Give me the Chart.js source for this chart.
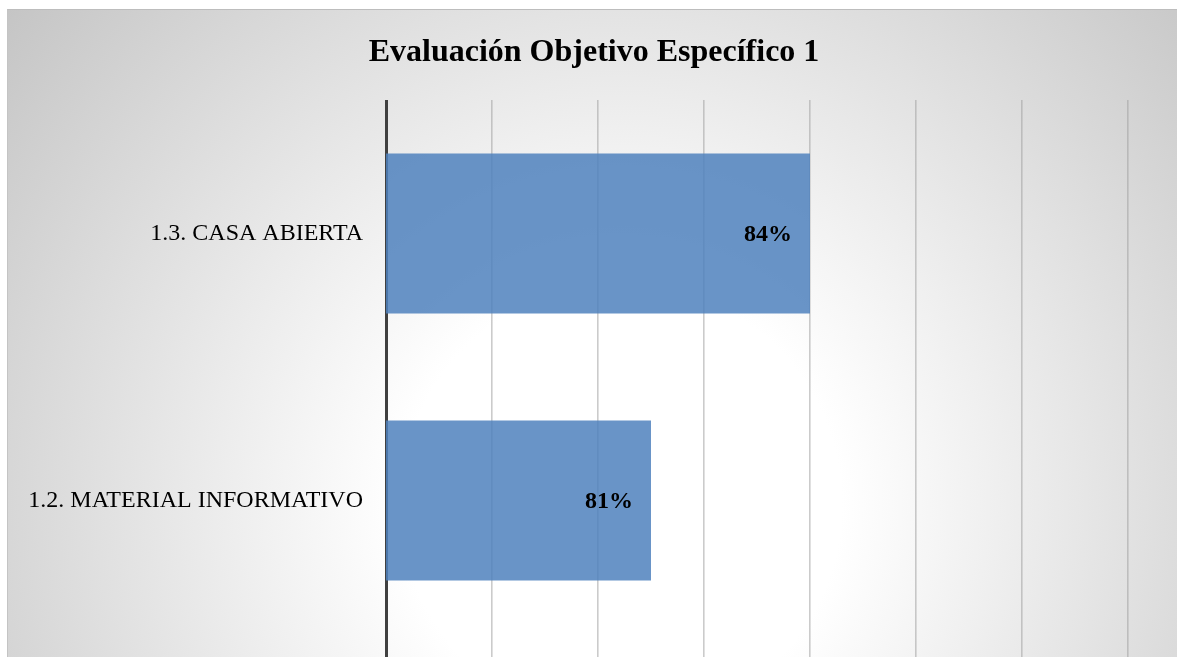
<!DOCTYPE html>
<html>
<head>
<meta charset="utf-8">
<script src="https://cdn.jsdelivr.net/npm/chart.js@4/dist/chart.umd.min.js"></script>
<style>
  html, body { margin: 0; padding: 0; background: #ffffff; width: 1177px; height: 657px; overflow: hidden; }
  #frame {
    position: absolute; left: 7px; top: 9px; width: 1180px; height: 660px;
    border-top: 1px solid #bdbdbd; border-left: 1px solid #c4c4c4;
    background: radial-gradient(circle farthest-corner at 52% 75%, #ffffff 0%, #ffffff 28%, #c5c5c5 100%);
    box-sizing: border-box;
  }
  canvas { position: absolute; left: 0; top: 0; }
</style>
</head>
<body>
<div id="frame"><canvas id="c" width="1172" height="647"></canvas></div>
<script>
const categories = ['1.3. CASA ABIERTA', '1.2. MATERIAL INFORMATIVO'];
const values = [84, 81];
const valueLabels = ['84%', '81%'];
const axisMin = 76, axisMax = 90, axisStep = 2;

const barLabels = {
  id: 'barLabels',
  afterDatasetsDraw(chart) {
    const ctx = chart.ctx;
    const meta = chart.getDatasetMeta(0);
    ctx.save();
    ctx.font = 'bold 24px "Liberation Serif", "Times New Roman", serif';
    ctx.fillStyle = '#000000';
    ctx.textAlign = 'right';
    ctx.textBaseline = 'middle';
    meta.data.forEach((bar, i) => {
      ctx.fillText(valueLabels[i], bar.x - 18, bar.y + 1);
    });
    ctx.restore();
  }
};

new Chart(document.getElementById('c'), {
  type: 'bar',
  data: {
    labels: categories,
    datasets: [{
      data: values,
      backgroundColor: 'rgba(79,129,189,0.85)',
      borderWidth: 0,
      categoryPercentage: 0.6,
      barPercentage: 1.0
    }]
  },
  options: {
    indexAxis: 'y',
    responsive: false,
    animation: false,
    layout: { padding: 0 },
    plugins: {
      legend: { display: false },
      tooltip: { enabled: false },
      title: {
        display: true,
        text: 'Evaluación Objetivo Específico 1',
        color: '#000000',
        font: { family: '"Liberation Serif", "Times New Roman", serif', size: 32, weight: 'bold', lineHeight: 1.2 },
        padding: { top: 24, bottom: 27.6 }
      }
    },
    scales: {
      x: {
        type: 'linear',
        min: axisMin, max: axisMax,
        ticks: { stepSize: axisStep, display: false },
        border: { display: false },
        grid: {
          drawTicks: true,
          tickLength: 40,
          color: (c) => (c.tick && c.tick.value === axisMin) ? '#404040' : 'rgba(160,160,160,0.55)',
          lineWidth: (c) => (c.tick && c.tick.value === axisMin) ? 3 : 1.6
        },
        afterFit: (s) => { s.height = 23; s.paddingLeft = 0; s.paddingRight = 0; }
      },
      y: {
        grid: { display: false, drawTicks: false },
        border: { display: false },
        ticks: {
          color: '#000000',
          padding: 23,
          font: { family: '"Liberation Serif", "Times New Roman", serif', size: 24 }
        },
        afterFit: (s) => { s.width = 378; s.paddingTop = 0; s.paddingBottom = 0; }
      },
      yRight: {
        type: 'category',
        position: 'right',
        labels: categories,
        grid: { display: false, drawTicks: false },
        border: { display: false },
        ticks: { display: false },
        afterFit: (s) => { s.width = 52; s.paddingTop = 0; s.paddingBottom = 0; }
      }
    }
  },
  plugins: [barLabels]
});
</script>
</body>
</html>
